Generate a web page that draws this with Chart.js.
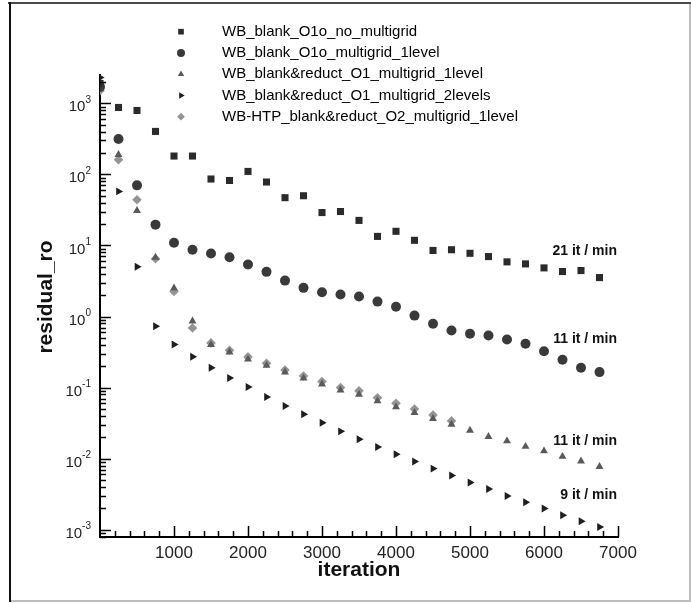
<!DOCTYPE html>
<html>
<head>
<meta charset="utf-8">
<script src="https://cdn.jsdelivr.net/npm/chart.js@4.4.1/dist/chart.umd.min.js"></script>
<style>
  html, body { margin: 0; padding: 0; background: #fff; }
  #wrap { width: 691px; height: 603px; }
</style>
</head>
<body>
<div id="wrap"><canvas id="chart" width="691" height="603"></canvas></div>
<script>
// iterations of each sample (every 250)
const iterations = [0, 250, 500, 750, 1000, 1250, 1500, 1750, 2000, 2250, 2500, 2750, 3000, 3250,
                    3500, 3750, 4000, 4250, 4500, 4750, 5000, 5250, 5500, 5750, 6000, 6250, 6500, 6750];

const noMultigrid = [1900, 873, 792, 402, 181, 181, 86, 82, 110, 78, 47, 50, 29, 30,
                     22.5, 13.4, 15.8, 11.8, 8.5, 8.7, 7.75, 6.97, 5.87, 5.5, 4.83, 4.29, 4.43, 3.53];
const multigrid1 = [1700, 314, 70, 19.6, 10.9, 8.7, 7.7, 6.8, 5.4, 4.25, 3.2, 2.53, 2.19, 2.04,
                    1.91, 1.62, 1.37, 1.03, 0.79, 0.636, 0.571, 0.541, 0.475, 0.413, 0.325, 0.246, 0.19, 0.165];
const reduct1level = [1800, 189, 30.8, 6.8, 2.5, 0.86, 0.40, 0.315, 0.25, 0.205, 0.165, 0.135, 0.112, 0.092,
                      0.0802, 0.0646, 0.0532, 0.0444, 0.0365, 0.0304, 0.025, 0.0204, 0.0177, 0.0148, 0.0128, 0.0107, 0.0092, 0.0077];
const reduct2levels = [2300, 57.6, 5.0, 0.73, 0.404, 0.272, 0.19, 0.136, 0.1016, 0.0735, 0.0549, 0.042, 0.0321, 0.0242,
                       0.0187, 0.0146, 0.0115, 0.0091, 0.00724, 0.00578, 0.00461, 0.00374, 0.00298, 0.00243, 0.00199, 0.0016, 0.00132, 0.00109];
const htp1level = [1500, 161, 44, 6.5, 2.25, 0.69, 0.425, 0.335, 0.27, 0.22, 0.177, 0.145, 0.122, 0.10,
                   0.090, 0.072, 0.060, 0.050, 0.041, 0.034];

const seriesNames = ['WB_blank_O1o_no_multigrid', 'WB_blank_O1o_multigrid_1level',
                     'WB_blank&reduct_O1_multigrid_1level', 'WB_blank&reduct_O1_multigrid_2levels',
                     'WB-HTP_blank&reduct_O2_multigrid_1level'];

// speed notes at the right end of each curve
const speedLabels = ['21 it / min', '11 it / min', '11 it / min', '9 it / min'];
const speedLabelY = [8.2, 0.475, 0.0175, 0.00305];

const xTicks = [1000, 2000, 3000, 4000, 5000, 6000, 7000];
const yExponents = [3, 2, 1, 0, -1, -2, -3];

function pts(values) {
  return values.map((v, i) => ({ x: iterations[i], y: v }));
}

const styles = [
  { pointStyle: 'rect', color: '#2b2b2b', r: 5, rot: 0 },
  { pointStyle: 'circle', color: '#3a3a3a', r: 5, rot: 0 },
  { pointStyle: 'triangle', color: '#5a5a5a', r: 4.6, rot: 0 },
  { pointStyle: 'triangle', color: '#1e1e1e', r: 4.6, rot: 90 },
  { pointStyle: 'rectRot', color: '#949494', r: 4.8, rot: 0 }
];
const allValues = [noMultigrid, multigrid1, reduct1level, reduct2levels, htp1level];

const datasets = allValues.map((vals, i) => ({
  label: seriesNames[i],
  data: pts(vals),
  showLine: false,
  pointStyle: styles[i].pointStyle,
  pointRotation: styles[i].rot,
  pointRadius: styles[i].r,
  pointHoverRadius: styles[i].r,
  pointBackgroundColor: styles[i].color,
  pointBorderColor: styles[i].color,
  pointBorderWidth: 0
}));

const FONT = '"Liberation Sans", Arial, Helvetica, sans-serif';

function marker(ctx, style, x, y) {
  if (Chart.helpers && Chart.helpers.drawPoint) {
    ctx.save();
    ctx.fillStyle = style.color;
    ctx.strokeStyle = style.color;
    ctx.lineWidth = 0;
    Chart.helpers.drawPoint(ctx, { pointStyle: style.pointStyle, rotation: style.rot, radius: style.r * 0.8, borderWidth: 0 }, x, y);
    ctx.restore();
  }
}

const decorations = {
  id: 'decorations',
  beforeDraw(chart) {
    const ctx = chart.ctx;
    ctx.save();
    ctx.fillStyle = '#fff';
    ctx.fillRect(0, 0, chart.width, chart.height);
    // frame round the figure
    ctx.fillStyle = '#bdbdbd';
    ctx.fillRect(9, 600, 682, 2);
    ctx.fillRect(689, 2, 2, 600);
    ctx.fillStyle = '#4a4a4a';
    ctx.fillRect(8, 2, 683, 2);
    ctx.fillStyle = '#111';
    ctx.fillRect(9, 2, 2, 600);
    ctx.restore();
  },
  afterDraw(chart) {
    const ctx = chart.ctx;
    const xs = chart.scales.x, ys = chart.scales.y;
    const left = xs.left, bottom = ys.bottom;
    ctx.save();
    ctx.strokeStyle = '#000';
    ctx.lineWidth = 1.5;
    ctx.beginPath();
    // y ticks (inward)
    for (let k = -4; k <= 4; k++) {
      for (let m = 1; m <= 9; m++) {
        const v = m * Math.pow(10, k);
        if (v < ys.min || v > ys.max) continue;
        const py = Math.round(ys.getPixelForValue(v)) + 0.5;
        ctx.moveTo(left, py);
        ctx.lineTo(left + (m === 1 ? 11 : 6), py);
      }
    }
    // x ticks (inward)
    for (let v = 200; v <= xs.max; v += 200) {
      const px = Math.round(xs.getPixelForValue(v)) + 0.5;
      ctx.moveTo(px, bottom);
      ctx.lineTo(px, bottom - (v % 1000 === 0 ? 11 : 6));
    }
    ctx.stroke();

    // y tick labels 10^k
    ctx.fillStyle = '#222';
    ctx.textBaseline = 'middle';
    yExponents.forEach(k => {
      const py = ys.getPixelForValue(Math.pow(10, k));
      const exp = String(k);
      ctx.font = '10px ' + FONT;
      const ew = ctx.measureText(exp).width;
      ctx.textAlign = 'left';
      ctx.fillText(exp, 91 - ew, py - 3);
      ctx.font = '15px ' + FONT;
      ctx.textAlign = 'right';
      ctx.fillText('10', 91 - ew, py + 4);
    });

    // axis titles
    ctx.fillStyle = '#111';
    ctx.font = 'bold 21px ' + FONT;
    ctx.textAlign = 'center';
    ctx.textBaseline = 'middle';
    ctx.fillText('iteration', (xs.left + xs.right) / 2, 570);
    ctx.save();
    ctx.translate(46, 297);
    ctx.rotate(-Math.PI / 2);
    ctx.fillText('residual_ro', 0, 0);
    ctx.restore();

    // speed notes
    ctx.font = 'bold 14px ' + FONT;
    ctx.textAlign = 'right';
    speedLabels.forEach((t, i) => {
      ctx.fillText(t, xs.getPixelForValue(7000) - 1, ys.getPixelForValue(speedLabelY[i]));
    });

    // legend
    ctx.font = '15px ' + FONT;
    ctx.textAlign = 'left';
    seriesNames.forEach((name, i) => {
      const y = 31.7 + i * 21.25;
      marker(ctx, styles[i], 181, y);
      ctx.fillStyle = '#000';
      ctx.fillText(name, 222, y);
    });
    ctx.restore();
  }
};

new Chart(document.getElementById('chart'), {
  type: 'scatter',
  data: { datasets: datasets },
  plugins: [decorations],
  options: {
    responsive: false,
    animation: false,
    devicePixelRatio: 1,
    layout: { padding: { left: 10, top: 75, right: 73, bottom: 0 }, autoPadding: false },
    plugins: { legend: { display: false }, tooltip: { enabled: false } },
    scales: {
      x: {
        type: 'linear',
        min: 0,
        max: 7000,
        afterFit(s) { s.height = 66; },
        afterBuildTicks(s) { s.ticks = xTicks.map(v => ({ value: v })); },
        grid: { display: false, drawTicks: false },
        border: { display: true, color: '#000', width: 2 },
        ticks: {
          padding: 6,
          color: '#222',
          font: { family: FONT, size: 17 },
          maxRotation: 0,
          autoSkip: false,
          callback: v => String(v)
        }
      },
      y: {
        type: 'logarithmic',
        min: 0.00079,
        max: 2500,
        afterFit(s) { s.width = 90; },
        grid: { display: false, drawTicks: false },
        border: { display: true, color: '#000', width: 2 },
        ticks: { display: false }
      }
    }
  }
});
</script>
</body>
</html>
